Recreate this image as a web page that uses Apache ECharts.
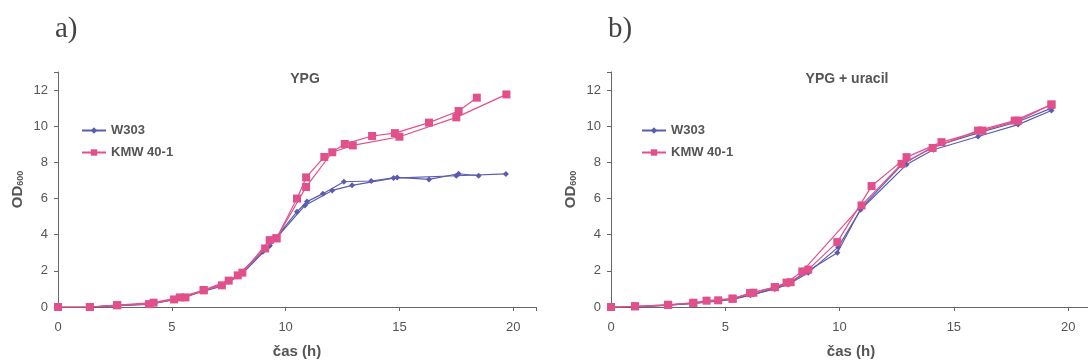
<!DOCTYPE html>
<html><head><meta charset="utf-8">
<script src="https://cdn.jsdelivr.net/npm/echarts@6/dist/echarts.min.js"></script>
<style>html,body{margin:0;padding:0;background:#fff}#c{width:1088px;height:363px}</style>
</head><body><div id="c"></div>
<script>
// Panel a) YPG
const aW1_t = [1.4, 2.6, 4.0, 5.1, 6.4, 7.2, 7.9, 9.0, 9.3, 10.5, 10.94, 11.64, 12.56, 13.76, 14.9, 16.3, 17.6, 18.48];
const aW1_v = [0, 0.08, 0.15, 0.4, 0.88, 1.15, 1.7, 3.06, 3.39, 5.27, 5.83, 6.27, 6.93, 6.97, 7.17, 7.06, 7.37, 7.26];
const aW2_t = [1.4, 2.6, 4.2, 5.4, 6.4, 7.5, 8.1, 9.3, 10.85, 12.05, 12.92, 14.74, 17.5, 19.68];
const aW2_v = [0, 0.08, 0.2, 0.5, 0.9, 1.4, 1.85, 3.39, 5.62, 6.45, 6.73, 7.13, 7.26, 7.36];
const aK1_t = [0, 1.4, 2.6, 4.0, 5.1, 5.6, 6.4, 7.2, 7.9, 9.1, 9.6, 10.5, 10.9, 11.7, 12.6, 13.8, 14.8, 16.3, 17.6, 18.4];
const aK1_v = [0, 0, 0.1, 0.16, 0.42, 0.53, 0.92, 1.2, 1.75, 3.24, 3.8, 6.0, 7.17, 8.3, 9.02, 9.46, 9.62, 10.2, 10.84, 11.58];
const aK2_t = [0, 1.4, 2.6, 4.2, 5.35, 6.4, 7.5, 8.1, 9.3, 9.6, 10.9, 12.05, 12.95, 15.0, 17.5, 19.7];
const aK2_v = [0, 0, 0.1, 0.24, 0.53, 0.94, 1.46, 1.9, 3.7, 3.8, 6.64, 8.56, 8.94, 9.42, 10.49, 11.76];
// Panel b) YPG + uracil
const bW1_t = [1.05, 2.5, 3.6, 4.69, 5.32, 6.1, 7.17, 7.75, 8.63, 9.94, 10.92, 12.93, 14.1, 16.06, 17.81, 19.27];
const bW1_v = [0, 0.1, 0.2, 0.33, 0.42, 0.65, 1.0, 1.25, 1.9, 3.31, 5.38, 7.88, 8.7, 9.43, 10.09, 10.87];
const bW2_t = [1.05, 2.5, 3.6, 4.69, 5.32, 6.23, 7.17, 7.86, 8.63, 9.9, 10.96, 12.71, 14.07, 16.25, 17.81, 19.27];
const bW2_v = [0, 0.1, 0.2, 0.36, 0.45, 0.7, 1.05, 1.35, 2.0, 3.0, 5.5, 7.85, 8.85, 9.7, 10.25, 11.0];
const bK1_t = [0, 1.05, 2.5, 3.6, 4.69, 5.32, 6.08, 7.17, 7.68, 8.37, 10.96, 12.71, 14.07, 16.06, 17.66, 19.27];
const bK1_v = [0, 0.04, 0.12, 0.23, 0.37, 0.46, 0.77, 1.1, 1.35, 1.97, 5.62, 7.92, 8.8, 9.76, 10.31, 11.2];
const bK2_t = [0, 1.05, 2.5, 3.6, 4.18, 5.32, 6.23, 7.17, 7.86, 8.63, 9.9, 11.4, 12.93, 14.46, 16.25, 17.81, 19.27];
const bK2_v = [0, 0.04, 0.12, 0.23, 0.35, 0.46, 0.79, 1.1, 1.37, 2.07, 3.59, 6.69, 8.29, 9.12, 9.76, 10.31, 11.2];

const panelLabels = ['a)', 'b)'];
const panelTitles = ['YPG', 'YPG + uracil'];
const strains = ['W303', 'KMW 40-1'];
const xName = 'čas (h)';

const BLUE = '#5a5cae', PINK = '#e2508c', TXT = '#555';
const pair = (t, v) => t.map((x, i) => [x, v[i]]);

function ser(name, idx, t, v) {
  const isW = name === strains[0];
  return {
    type: 'line', name, xAxisIndex: idx, yAxisIndex: idx,
    data: pair(t, v),
    symbol: isW ? 'diamond' : 'rect',
    symbolSize: isW ? 6 : 8,
    lineStyle: { width: 1.2, color: isW ? BLUE : PINK },
    itemStyle: { color: isW ? BLUE : PINK },
    z: isW ? 2 : 3
  };
}

const chart = echarts.init(document.getElementById('c'), null, { renderer: 'canvas' });
const grids = [
  { left: 58, top: 72, width: 478, height: 235, outerBoundsMode: 'none', containLabel: false },
  { left: 611, top: 72, width: 480, height: 235, outerBoundsMode: 'none', containLabel: false }
];
const xAxes = grids.map((g, i) => ({
  type: 'value', gridIndex: i, min: 0, max: 21, interval: 5,
  name: xName, nameLocation: 'middle', nameGap: 37,
  nameTextStyle: { fontFamily: 'Liberation Sans, Arial', fontWeight: 'bold', fontSize: 15, color: TXT },
  axisLine: { lineStyle: { color: '#666', width: 1 } },
  axisTick: { length: 4, lineStyle: { color: '#666' } },
  axisLabel: { fontFamily: 'Liberation Sans, Arial', fontSize: 13, color: TXT, margin: 14,
    formatter: v => (v > 20 ? '' : v) },
  splitLine: { show: false }
}));
const yAxes = grids.map((g, i) => ({
  type: 'value', gridIndex: i, min: 0, max: 13, interval: 2,
  name: '{a|OD}{b|600}', nameLocation: 'middle', nameGap: 33, nameRotate: 90,
  nameTextStyle: { rich: {
    a: { fontFamily: 'Liberation Sans, Arial', fontWeight: 'bold', fontSize: 15, color: TXT },
    b: { fontFamily: 'Liberation Sans, Arial', fontWeight: 'bold', fontSize: 9, color: TXT, padding: [6, 0, 0, 0] }
  } },
  axisLine: { show: true, lineStyle: { color: '#666', width: 1 } },
  axisTick: { show: true, length: 4, lineStyle: { color: '#666' } },
  axisLabel: { fontFamily: 'Liberation Sans, Arial', fontSize: 13, color: TXT, margin: 10,
    formatter: v => (v > 12 ? '' : v) },
  splitLine: { show: false }
}));

chart.setOption({
  animation: false,
  backgroundColor: '#fff',
  title: [
    { text: panelLabels[0], left: 50, top: 10, textStyle: { fontFamily: 'Liberation Serif, Times New Roman', fontWeight: 'normal', fontSize: 29, color: '#444' } },
    { text: panelLabels[1], left: 603, top: 10, textStyle: { fontFamily: 'Liberation Serif, Times New Roman', fontWeight: 'normal', fontSize: 29, color: '#444' } },
    { text: panelTitles[0], left: 300, top: 67, textAlign: 'center', textStyle: { fontFamily: 'Liberation Sans, Arial', fontWeight: 'bold', fontSize: 14, color: TXT } },
    { text: panelTitles[1], left: 842, top: 67, textAlign: 'center', textStyle: { fontFamily: 'Liberation Sans, Arial', fontWeight: 'bold', fontSize: 14, color: TXT } }
  ],
  legend: [
    { data: strains, orient: 'vertical', left: 76, top: 119, itemWidth: 24, itemHeight: 8, itemGap: 9,
      textStyle: { fontFamily: 'Liberation Sans, Arial', fontWeight: 'bold', fontSize: 13, color: TXT } },
    { data: strains, orient: 'vertical', left: 636, top: 119, itemWidth: 24, itemHeight: 8, itemGap: 9,
      textStyle: { fontFamily: 'Liberation Sans, Arial', fontWeight: 'bold', fontSize: 13, color: TXT } }
  ],
  grid: grids,
  xAxis: xAxes,
  yAxis: yAxes,
  series: [
    ser(strains[0], 0, aW1_t, aW1_v),
    ser(strains[0], 0, aW2_t, aW2_v),
    ser(strains[1], 0, aK1_t, aK1_v),
    ser(strains[1], 0, aK2_t, aK2_v),
    ser(strains[0], 1, bW1_t, bW1_v),
    ser(strains[0], 1, bW2_t, bW2_v),
    ser(strains[1], 1, bK1_t, bK1_v),
    ser(strains[1], 1, bK2_t, bK2_v)
  ]
});
</script></body></html>
